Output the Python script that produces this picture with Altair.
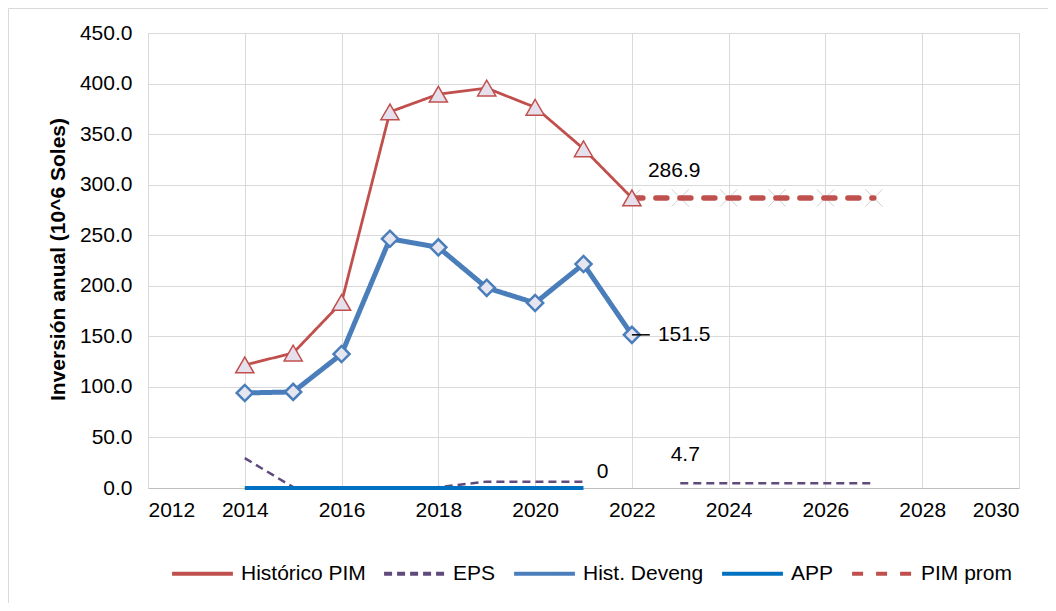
import altair as alt
import pandas as pd

# ---- data ----
hist_years = [2014, 2015, 2016, 2017, 2018, 2019, 2020, 2021, 2022]
pim_hist = [121.7, 133.5, 183.5, 372.0, 389.5, 395.5, 376.5, 335.5, 286.9]
deveng = [94.0, 95.0, 132.5, 246.5, 238.0, 198.0, 183.0, 221.5, 151.5]

eps_years_a = [2014, 2015, 2016, 2017, 2018, 2019, 2020, 2021]
eps_vals_a = [29.5, 0.8, 0.6, 0.6, 0.8, 6.3, 6.3, 6.3]
eps_years_b = [2023, 2024, 2025, 2026, 2027]
eps_vals_b = [4.7, 4.7, 4.7, 4.7, 4.7]

app_years = [2014, 2015, 2016, 2017, 2018, 2019, 2020, 2021]
app_vals = [0, 0, 0, 0, 0, 0, 0, 0]

prom_years = [2022, 2023, 2024, 2025, 2026, 2027]
prom_vals = [286.9, 286.9, 286.9, 286.9, 286.9, 286.9]

series_order = ["Histórico PIM", "EPS", "Hist. Deveng", "APP", "PIM prom"]
x_ticks = list(range(2012, 2031, 2))
y_ticks = list(range(0, 451, 50))

rows = []
def add(years, vals, serie, seg):
    for yr, v in zip(years, vals):
        rows.append({"year": yr, "value": v, "serie": serie, "seg": seg})

add(hist_years, pim_hist, "Histórico PIM", "pim")
add(eps_years_a, eps_vals_a, "EPS", "eps_a")
add(eps_years_b, eps_vals_b, "EPS", "eps_b")
add(hist_years, deveng, "Hist. Deveng", "dev")
add(app_years, app_vals, "APP", "app")
add(prom_years, prom_vals, "PIM prom", "prom")
df = pd.DataFrame(rows)

FONT = "Liberation Sans"
FS = 21
W, H = 871, 455

colors = ["#C0504D", "#604A7B", "#4A7EBB", "#0070C0", "#C0504D"]
dashes = [[1, 0], [8, 5], [1, 0], [1, 0], [11, 13]]
widths = {"Histórico PIM": 2.8, "EPS": 2.5, "Hist. Deveng": 5, "APP": 4, "PIM prom": 5.5}
caps = {"Histórico PIM": "butt", "EPS": "butt", "Hist. Deveng": "round", "APP": "butt", "PIM prom": "round"}

xenc = alt.X("year:Q",
             scale=alt.Scale(domain=[2012, 2030], nice=False, zero=False),
             axis=alt.Axis(values=x_ticks, format="d", title=None, grid=True,
                           gridColor="#D9D9D9", domainColor="#BFBFBF", ticks=False,
                           labelFontSize=FS, labelPadding=11, labelColor="#000000"))
yenc = alt.Y("value:Q",
             scale=alt.Scale(domain=[0, 450], nice=False),
             axis=alt.Axis(values=y_ticks, format=".1f", title="Inversión anual (10^6 Soles)",
                           grid=True, gridColor="#D9D9D9", domain=False, ticks=False,
                           labelFontSize=FS, labelPadding=16, labelColor="#000000",
                           titleFontSize=21, titleFontWeight="bold", titleColor="#000000",
                           titleX=-90, titleY=226, titleAngle=270,
                           titleAlign="center", titleBaseline="middle"))

base = alt.Chart(df)

border = alt.Chart(pd.DataFrame({"a": [0]})).mark_rect(
    fillOpacity=0, stroke="#D9D9D9", strokeWidth=1
).encode(x=alt.value(-139.5), x2=alt.value(W + 60), y=alt.value(-24.5), y2=alt.value(H + 160))

prom_x = base.transform_filter(alt.datum.serie == "PIM prom").mark_point(
    shape="M-1,-1L1,1M-1,1L1,-1", size=300, filled=False, color="#D0D0D0", strokeWidth=1, opacity=1
).encode(x=xenc, y=yenc)

legend = alt.Legend(title=None, orient="none", legendX=22, legendY=508, direction="horizontal",
                    symbolType="stroke", symbolSize=3700, symbolStrokeWidth=4,
                    labelFontSize=FS, labelFont=FONT,
                    labelColor="#000000", labelOffset=6, columnPadding=10, labelLimit=300)

color_enc = alt.Color("serie:N", scale=alt.Scale(domain=series_order, range=colors), legend=legend)
dash_enc = alt.StrokeDash("serie:N", scale=alt.Scale(domain=series_order, range=dashes), legend=legend)

line_layers = []
for s in ["EPS", "APP", "Histórico PIM", "Hist. Deveng", "PIM prom"]:
    line_layers.append(
        base.transform_filter(alt.datum.serie == s).mark_line(
            strokeWidth=widths[s], strokeCap=caps[s], strokeJoin="round"
        ).encode(x=xenc, y=yenc, color=color_enc, strokeDash=dash_enc,
                 detail="seg:N", order="year:Q")
    )

tri = base.transform_filter(alt.datum.serie == "Histórico PIM").mark_point(
    shape="triangle-up", size=330, filled=True, fill="#E6E0EC", stroke="#C0504D", strokeWidth=1.5, opacity=1
).encode(x=xenc, y=yenc)

dia = base.transform_filter(alt.datum.serie == "Hist. Deveng").mark_point(
    shape="diamond", size=260, filled=True, fill="#E6E6F0", stroke="#4A7EBB", strokeWidth=2.5, opacity=1
).encode(x=xenc, y=yenc)

last_pim = base.transform_filter((alt.datum.serie == "PIM prom") & (alt.datum.year == 2022))
lbl_pim = last_pim.mark_text(align="left", baseline="middle", dx=16, dy=-27, fontSize=FS, font=FONT,
                             color="#000000").encode(x=xenc, y=yenc, text=alt.Text("value:Q", format=".1f"))

last_dev = base.transform_filter((alt.datum.serie == "Hist. Deveng") & (alt.datum.year == 2022))
leader = last_dev.transform_calculate(x2v="datum.year + 0.37").mark_rule(color="#000000", strokeWidth=1.5).encode(
    x=xenc, x2="x2v:Q", y=yenc)
lbl_dev = last_dev.mark_text(align="left", baseline="middle", dx=26, dy=0, fontSize=FS, font=FONT,
                             color="#000000").encode(x=xenc, y=yenc, text=alt.Text("value:Q", format=".1f"))

last_app = base.transform_filter((alt.datum.serie == "APP") & (alt.datum.year == 2021))
lbl_app = last_app.mark_text(align="center", baseline="middle", dx=19, dy=-16, fontSize=FS, font=FONT,
                             color="#000000").encode(x=xenc, y=yenc, text=alt.Text("value:Q", format="d"))

first_eps_b = base.transform_filter((alt.datum.serie == "EPS") & (alt.datum.year == 2023))
lbl_eps = first_eps_b.mark_text(align="center", baseline="middle", dx=5, dy=-28, fontSize=FS, font=FONT,
                                color="#000000").encode(x=xenc, y=yenc, text=alt.Text("value:Q", format=".1f"))

chart = alt.layer(
    border, prom_x, *line_layers, tri, dia, leader, lbl_pim, lbl_dev, lbl_app, lbl_eps
).properties(
    width=W, height=H,
    autosize=alt.AutoSizeParams(type="none"),
    padding={"left": 140, "top": 25, "right": 29, "bottom": 115},
).configure(
    font=FONT,
).configure_view(
    stroke=None,
)

chart.save("out.html", embed_options={"renderer": "svg", "actions": False})
